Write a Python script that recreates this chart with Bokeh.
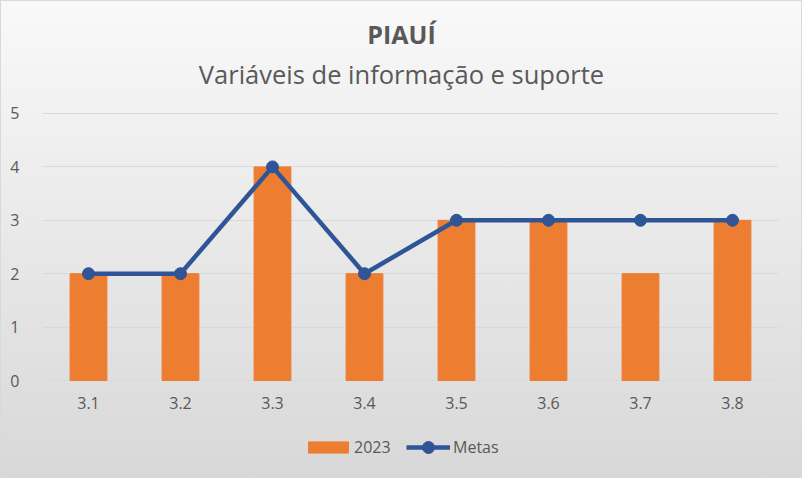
from bokeh.plotting import figure
from bokeh.models import FactorRange, Range1d, Label, Legend, LegendItem, FixedTicker
from bokeh.embed import file_html
from bokeh.resources import INLINE

categories = ["3.1", "3.2", "3.3", "3.4", "3.5", "3.6", "3.7", "3.8"]
values_2023 = [2, 2, 4, 2, 3, 3, 2, 3]
metas = [2, 2, 4, 2, 3, 3, 3, 3]
y_ticks = [0, 1, 2, 3, 4, 5]
title_text = "PIAUÍ"
subtitle_text = "Variáveis de informação e suporte"

FONT = "Open Sans"
TXT = "#595959"

# the frame covers the whole height so titles and legend can sit inside it
p = figure(x_range=FactorRange(*categories, range_padding=0), y_range=Range1d(-1.835, 7.116),
           width=802, height=478, output_backend="svg", toolbar_location=None,
           x_axis_location=None,
           min_border_left=42, min_border_right=24, min_border_top=0, min_border_bottom=0)
p.styles = {"background": "linear-gradient(#f9f9f9, #d8d8d8)",
            "box-shadow": "inset 0 0 0 1px #d9d9d9"}
p.border_fill_color = None
p.background_fill_color = None
p.outline_line_color = None

bars = p.vbar(x=categories, top=values_2023, width=0.4, color="#ED7D31")
line = p.line(x=categories, y=metas, line_width=4.5, color="#2F5597")
pts = p.scatter(x=categories, y=metas, size=12, color="#2F5597")

# category labels under the zero line
p.text(x=categories, y=0, text=categories, y_offset=22, text_align="center",
       text_baseline="middle", text_font={"value": FONT}, text_font_size="16px",
       text_color=TXT)

p.yaxis.ticker = FixedTicker(ticks=y_ticks)
ax = p.yaxis[0]
ax.axis_line_color = None
ax.major_tick_line_color = None
ax.minor_tick_line_color = None
ax.major_label_text_font = FONT
ax.major_label_text_font_size = "16px"
ax.major_label_text_color = TXT
ax.major_label_standoff = 17
p.xgrid.grid_line_color = None
p.ygrid.grid_line_color = "#d9d9d9"

p.add_layout(Label(x=3.902, y=6.48, text=title_text, text_align="center",
                   text_baseline="alphabetic", text_font=FONT, text_font_size="25px",
                   text_font_style="bold", text_color=TXT))
p.add_layout(Label(x=3.902, y=5.749, text=subtitle_text, text_align="center",
                   text_baseline="alphabetic", text_font=FONT, text_font_size="25.5px",
                   text_color=TXT))

common = dict(orientation="horizontal", label_text_font=FONT, label_text_font_size="16px",
              label_text_color=TXT, background_fill_alpha=0, border_line_alpha=0,
              padding=0, margin=0)
legend_bar = Legend(items=[LegendItem(label="2023", renderers=[bars])],
                    location=(261, 20), glyph_width=50, glyph_height=14, label_standoff=1,
                    **common)
legend_line = Legend(items=[LegendItem(label="Metas", renderers=[line, pts])],
                     location=(364, 16), glyph_width=44, glyph_height=30, label_standoff=3,
                     **common)
p.add_layout(legend_bar, "center")
p.add_layout(legend_line, "center")

open("out.html", "w").write(file_html(p, INLINE))
